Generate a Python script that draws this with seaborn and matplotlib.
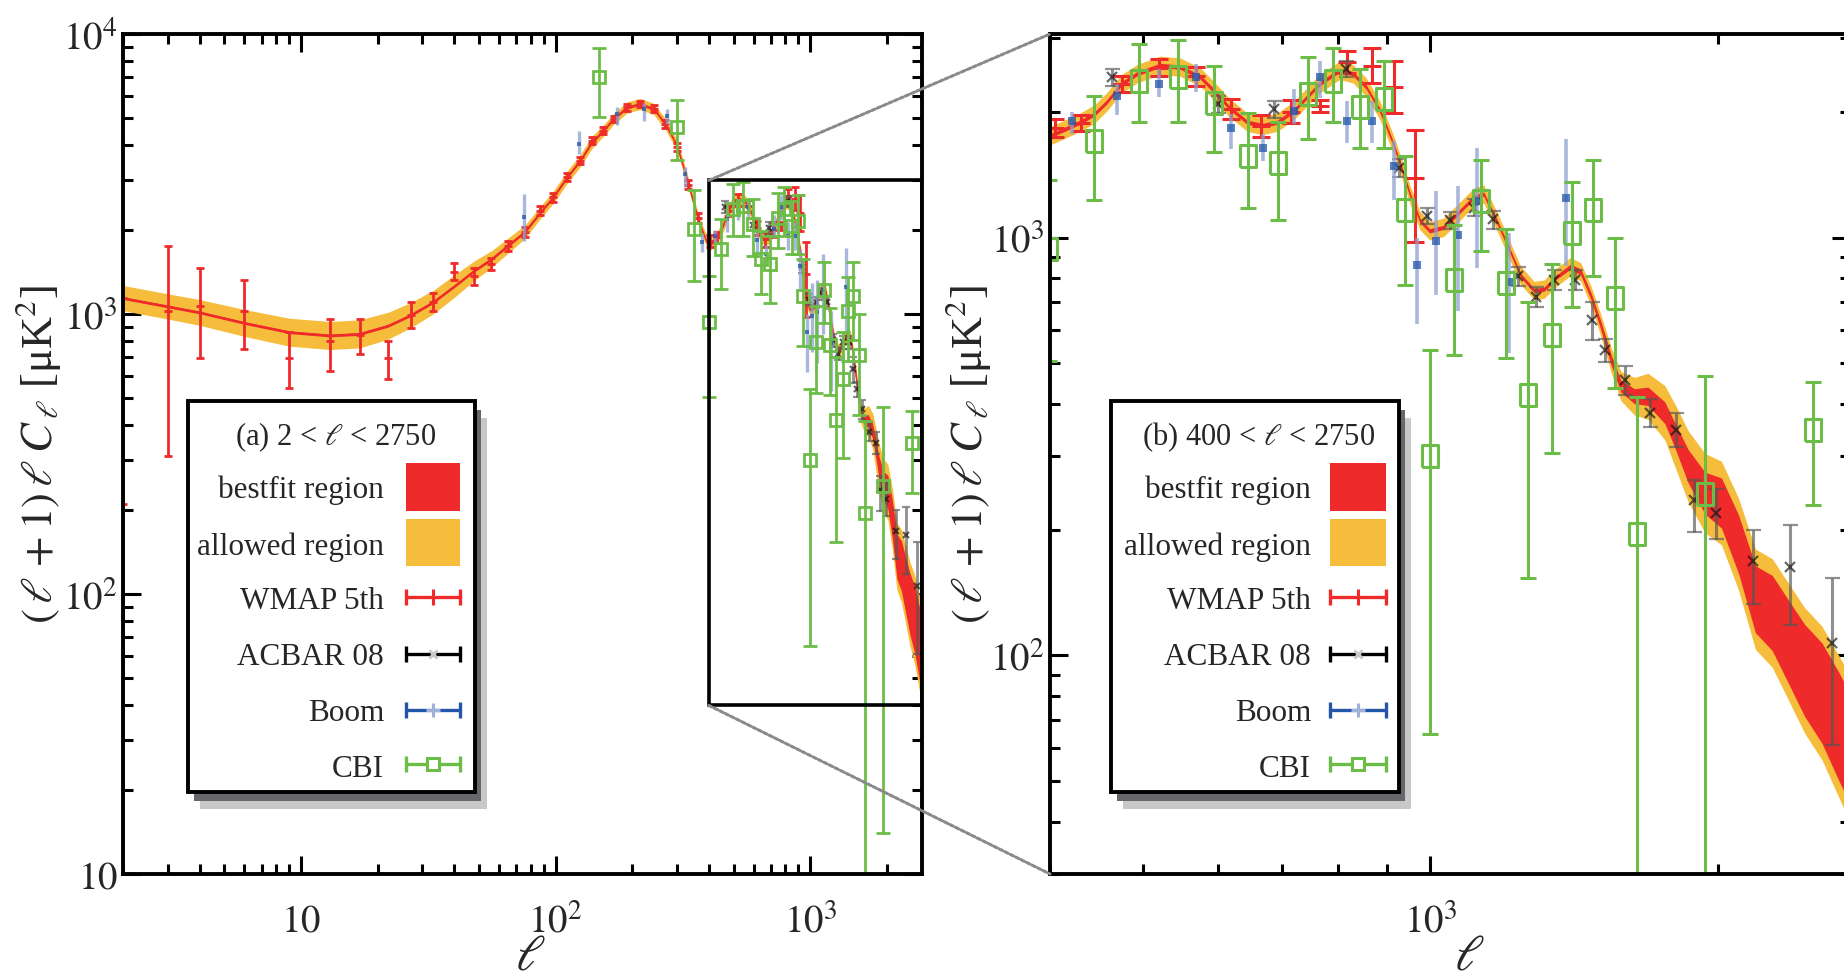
import numpy as np
import matplotlib
matplotlib.use("Agg")
import matplotlib.pyplot as plt
import seaborn as sns
from matplotlib.patches import Rectangle, ConnectionPatch
from matplotlib.ticker import FixedLocator, LogLocator, FuncFormatter, NullFormatter

sns.set_theme(style="ticks")
plt.rcParams["font.family"] = ["Liberation Serif", "DejaVu Serif"]
plt.rcParams["mathtext.fontset"] = "stix"

# ============================================
# best-fit spectrum (centre) and log half-widths of the two bands
# ============================================
ell_fit = [2, 3, 4, 6, 9, 13, 17, 22, 27, 33, 40, 48, 56, 65, 76, 87, 98, 111, 125, 139,
           154, 169, 191, 215, 243, 270, 300, 330, 360, 380, 400, 431, 446, 459, 476, 494,
           522, 548, 575, 594, 616, 644, 668, 693, 721, 767, 805, 831, 858, 887, 916, 934,
           953, 977, 1000, 1034, 1068, 1112, 1139, 1176, 1205, 1245, 1286, 1317, 1360, 1404,
           1439, 1475, 1511, 1548, 1585, 1638, 1692, 1762, 1806, 1864, 1941, 2020, 2105, 2192,
           2283, 2377, 2467, 2574, 2684, 2750]
cl_fit = [1140, 1064, 1013, 929, 861, 838, 849, 908, 991, 1101, 1256, 1429, 1570, 1754, 1970,
          2300, 2612, 3077, 3530, 4100, 4516, 4970, 5470, 5623, 5400, 4770, 4000, 3000, 2250,
          1950, 1745, 1884, 1973, 2104, 2328, 2460, 2576, 2551, 2416, 2244, 2047, 1884, 1849,
          1884, 2009, 2328, 2506, 2460, 2286, 2009, 1671, 1468, 1268, 1094, 1035, 1055, 1135,
          1245, 1268, 1090, 960, 810, 745, 750, 805, 850, 825, 722, 613, 509, 440, 416, 416,
          380, 335, 283, 244, 231, 184, 136, 126, 107, 92, 81, 67, 60]
w_allow = [0.045, 0.045, 0.046, 0.048, 0.05, 0.05, 0.05, 0.048, 0.045, 0.042,
           0.04, 0.035, 0.03, 0.027, 0.024, 0.022, 0.022, 0.022, 0.022, 0.022,
           0.02, 0.02, 0.02, 0.02, 0.02, 0.02, 0.02, 0.02, 0.02, 0.02,
           0.022, 0.022, 0.022, 0.022, 0.022, 0.022, 0.022, 0.022, 0.022, 0.022,
           0.022, 0.022, 0.022, 0.022, 0.022, 0.022, 0.022, 0.022, 0.022, 0.022,
           0.022, 0.022, 0.022, 0.022, 0.022, 0.022, 0.022, 0.022, 0.022, 0.022,
           0.022, 0.022, 0.022, 0.022, 0.022, 0.022, 0.022, 0.024, 0.026, 0.03,
           0.035, 0.045, 0.055, 0.065, 0.075, 0.085, 0.095, 0.1, 0.11, 0.12,
           0.13, 0.14, 0.15, 0.16, 0.17, 0.175]
w_best = [0.005] * 65 + [0.006, 0.007, 0.008, 0.01, 0.012] + \
         [0.014, 0.018, 0.022, 0.026, 0.03, 0.04, 0.05, 0.06, 0.07, 0.08,
          0.09, 0.1, 0.11, 0.12, 0.13, 0.13]

# ============================================
# data sets: ell, value, lower end, upper end of error bar
# ============================================
wmap_ell = [2, 3, 4, 6, 9, 13, 17, 22, 27, 33, 40, 48, 56, 65, 76, 87, 98, 111, 125, 139,
            154, 169, 191, 215, 243, 270, 300, 330, 363, 405, 431, 476, 520, 568, 618, 665,
            715, 767, 818, 869, 916, 965]
wmap_cl = [210, 1028, 1064, 1026, 698, 803, 838, 698, 991, 1101, 1416, 1363, 1510, 1754, 1959,
           2339, 2612, 3077, 3530, 4161, 4516, 4970, 5470, 5623, 5400, 4770, 3950, 2900, 2203,
           1828, 1884, 2328, 2551, 2430, 2027, 1849, 2000, 2061, 2630, 2576, 2296, 1390]
wmap_lo = [10, 311, 698, 748, 546, 628, 721, 584, 893, 1026, 1318, 1273, 1440, 1680, 1880,
           2250, 2520, 2980, 3420, 4040, 4390, 4840, 5330, 5480, 5250, 4630, 3820, 2790, 2110,
           1740, 1800, 2230, 2440, 2310, 1920, 1740, 1880, 1993, 2480, 2350, 1983, 977]
wmap_hi = [1140, 1754, 1460, 1318, 865, 960, 960, 803, 1107, 1188, 1521, 1460, 1590, 1830, 2040,
           2430, 2710, 3180, 3640, 4290, 4650, 5110, 5620, 5770, 5560, 4920, 4090, 3020, 2300,
           1920, 1970, 2430, 2680, 2560, 2140, 1960, 2130, 2134, 2790, 2838, 2650, 1807]

acbar_ell = [464, 599, 687, 816, 927, 993, 1050, 1110, 1162, 1235, 1291, 1349, 1416, 1475,
             1524, 1599, 1700, 1806, 1888, 1990, 2175, 2377, 2632]
acbar_cl = [2416, 2085, 2027, 2530, 1468, 1125, 1100, 1180, 1105, 807, 722, 793, 793, 636,
            538, 456, 380, 347, 235, 219, 168, 163, 107]
acbar_lo = [2300, 1990, 1930, 2420, 1400, 1075, 1050, 1125, 1050, 765, 683, 750, 750, 569,
            505, 420, 353, 315, 198, 190, 133, 118, 61]
acbar_hi = [2530, 2185, 2125, 2640, 1540, 1180, 1150, 1235, 1160, 850, 762, 836, 836, 700,
            572, 492, 410, 380, 263, 250, 200, 205, 153]

boom_ell = [75, 124, 174, 223, 274, 323, 375, 422, 470, 520, 569, 618, 668, 721, 767, 818,
            869, 916, 968, 1015, 1068, 1119, 1210, 1388]
boom_cl = [2215, 4050, 5180, 5400, 5100, 3162, 1805, 1901, 2183, 2328, 2416, 1832, 1641, 2009,
           2416, 1901, 1901, 1483, 861, 980, 1017, 1222, 785, 1245]
boom_lo = [1828, 3715, 4722, 4880, 4770, 2838, 1660, 1765, 1970, 2166, 2225, 1625, 1525, 1867,
           2163, 1687, 1687, 1233, 620, 730, 666, 846, 529, 855]
boom_hi = [2685, 4516, 5470, 5680, 5400, 3340, 1950, 2000, 2330, 2529, 2600, 1973, 1765, 2264,
           2650, 2124, 2124, 1702, 1000, 1292, 1327, 1641, 1026, 1718]

cbi_ell = [148, 300, 349, 399, 445, 496, 545, 594, 644, 693, 745, 792, 845, 894, 941, 1000,
           1059, 1130, 1200, 1265, 1341, 1408, 1479, 1561, 1644, 1941, 2513]
cbi_cl = [6993, 4642, 2014, 940, 1702, 2371, 2427, 2104, 1566, 1510, 2203, 2371, 2056, 2143,
          1163, 300, 793, 1222, 778, 419, 585, 1026, 1163, 716, 195, 243, 347]
cbi_lo = [5070, 3556, 1315, 506, 1233, 1892, 1892, 1605, 1178, 1099, 1718, 1892, 1641, 1641,
          769, 65, 524, 927, 514, 153, 305, 682, 807, 436, 1, 14, 229]
cbi_hi = [8913, 5816, 2773, 1371, 2183, 2904, 2963, 2576, 1983, 1892, 2704, 2838, 2529, 2650,
          1566, 539, 1070, 1530, 1049, 700, 865, 1359, 1532, 998, 416, 467, 452]

key_labels = ["bestfit region", "allowed region", "WMAP 5th", "ACBAR 08", "Boom", "CBI"]
panel_titles = ["(a) 2 < $\\ell$ < 2750", "(b) 400 < $\\ell$ < 2750"]
ylabel_text = "$(\\,\\ell\\,+1)\\,\\ell\\;C_{\\,\\ell}$ [μK$^2$]"

RED = "#ee2a2a"
ORANGE = "#f5bd3b"
GREEN = "#6cbd47"
BLUE = "#2356a8"
BLUE_ERR = "#8c9fd2"

W, H = 1844, 978
fig = plt.figure(figsize=(W / 100, H / 100), dpi=100)


def px_rect(x0, y0, x1, y1):
    return [x0 / W, 1 - y1 / H, (x1 - x0) / W, (y1 - y0) / H]


ax1 = fig.add_axes(px_rect(123, 35, 922, 875))
ax2 = fig.add_axes(px_rect(1050, 35, 1850, 875))


def yerr(cl, lo, hi):
    cl = np.asarray(cl, float)
    return [cl - np.asarray(lo, float), np.asarray(hi, float) - cl]


def pow_label(v, pos):
    e = int(round(np.log10(v)))
    return "$10$" if e == 1 else "$10^{%d}$" % e


CBI_BOX = [(-0.72, -1), (0.72, -1), (0.72, 1), (-0.72, 1), (-0.72, -1)]


def style_axes(ax, xlim, ylim, xmajor, ymajor):
    ax.set_xscale("log")
    ax.set_yscale("log")
    ax.set_xlim(xlim)
    ax.set_ylim(ylim)
    ax.xaxis.set_major_locator(FixedLocator(xmajor))
    ax.yaxis.set_major_locator(FixedLocator(ymajor))
    for axis in (ax.xaxis, ax.yaxis):
        axis.set_minor_locator(LogLocator(base=10, subs=np.arange(2, 10), numticks=30))
        axis.set_minor_formatter(NullFormatter())
        axis.set_major_formatter(FuncFormatter(pow_label))
    ax.tick_params(which="both", direction="in", top=True, right=True, width=2.2, color="black")
    ax.tick_params(which="major", length=13)
    ax.tick_params(which="minor", length=7)
    ax.tick_params(axis="x", which="major", labelsize=28, pad=41)
    ax.tick_params(axis="y", which="major", labelsize=28, pad=4)
    for lab in ax.get_xticklabels():
        lab.set_verticalalignment("baseline")
    for sp in ax.spines.values():
        sp.set_linewidth(2.8)
        sp.set_color("black")
        sp.set_zorder(8)
    ax.grid(False)


def draw_panel(ax, s):
    ell = np.asarray(ell_fit, float)
    cl = np.asarray(cl_fit, float)
    wa = 10 ** np.asarray(w_allow)
    wb = 10 ** np.asarray(w_best)
    ax.fill_between(ell, cl / wa, cl * wa, color=ORANGE, lw=0, zorder=1)
    ax.fill_between(ell, cl / wb, cl * wb, color=RED, lw=0, zorder=1.5)
    sns.lineplot(x=ell, y=cl, ax=ax, color=RED, lw=1.0, estimator=None, sort=False,
                 zorder=1.6)

    ax.errorbar(wmap_ell, wmap_cl, yerr=yerr(wmap_cl, wmap_lo, wmap_hi), fmt="_", color=RED,
                ms=2 * s["wmap_cap"], mew=s["lw"], elinewidth=s["lw"], capsize=s["wmap_cap"],
                capthick=s["lw"], zorder=3)
    ax.errorbar(acbar_ell, acbar_cl, yerr=yerr(acbar_cl, acbar_lo, acbar_hi), fmt="x",
                color="#111111", ecolor="#555555", ms=s["acbar_ms"], mew=1.6,
                elinewidth=s["lw"], capsize=s["acbar_cap"], capthick=s["lw"], alpha=0.65, zorder=4)
    ax.errorbar(boom_ell, boom_cl, yerr=yerr(boom_cl, boom_lo, boom_hi), fmt="s",
                color=BLUE, ecolor=BLUE_ERR, ms=s["boom_ms"], mew=0, elinewidth=s["lw"] + 0.4,
                capsize=s["boom_cap"], capthick=s["lw"] + 0.4, alpha=0.75, zorder=5)
    ax.errorbar(cbi_ell, cbi_cl, yerr=yerr(cbi_cl, cbi_lo, cbi_hi), marker=s["cbi_marker"],
                ls="none", color=GREEN, mfc="none", mec=GREEN, ms=s["cbi_ms"], mew=s["lw"],
                elinewidth=s["lw"], capsize=s["cbi_cap"], capthick=s["lw"], zorder=6)
    ax.set_xlabel("")
    ax.set_ylabel("")


left_sizes = dict(wmap_cap=3.2, acbar_cap=3.0, acbar_ms=4, boom_cap=3.0, boom_ms=3.5,
                  cbi_cap=4.7, cbi_ms=9, cbi_marker="s", lw=2.0)
right_sizes = dict(wmap_cap=6.5, acbar_cap=5.4, acbar_ms=6.5, boom_cap=4.3, boom_ms=5.5,
                   cbi_cap=6.0, cbi_ms=16.5, cbi_marker=CBI_BOX, lw=2.2)

style_axes(ax1, (2, 2750), (10, 1e4), [10, 100, 1000], [10, 100, 1000, 10000])
style_axes(ax2, (400, 2750), (30, 3070), [1000], [100, 1000])
draw_panel(ax1, left_sizes)
draw_panel(ax2, right_sizes)

for ax, lx in ((ax1, -0.106), (ax2, -0.1025)):
    ax.set_ylabel(ylabel_text, fontsize=32, va="center")
    ax.yaxis.set_label_coords(lx, 0.5)
for ax, lx in ((ax1, 0.51), (ax2, 0.524)):
    ax.set_xlabel("$\\ell$", fontsize=36, va="center")
    ax.xaxis.set_label_coords(lx, -0.098)

# zoomed region and the guide lines to panel (b)
ax1.add_patch(Rectangle((400, 40), 2750 - 400, 3000 - 40, fill=False, ec="black", lw=2.6,
                        zorder=7))
for ya, yb in ((3000, 1), (40, 0)):
    con = ConnectionPatch(xyA=(400, ya), coordsA=ax1.transData, xyB=(0, yb),
                          coordsB=ax2.transAxes, color="#8a8a8a", lw=2.2,
                          ls=(0, (1.2, 0.8)))
    fig.add_artist(con)

# ============================================
# keys (drawn in pixel space over the panels)
# ============================================
ov = fig.add_axes([0, 0, 1, 1], zorder=20)
ov.set_xlim(0, W)
ov.set_ylim(H, 0)
ov.axis("off")

row_base = [498, 555, 609, 665, 721, 777]
handle_y = [598, 655, 711, 765]


def draw_key(x0, x1, text_right, hx0, hx1, title):
    y0, y1 = 402, 793
    ov.add_patch(Rectangle((x0 + 12, y0 + 17), x1 - x0, y1 - y0, fc="#c8c8c8", ec="none"))
    ov.add_patch(Rectangle((x0 + 6, y0 + 9), x1 - x0, y1 - y0, fc="#66676b", ec="none"))
    ov.add_patch(Rectangle((x0, y0), x1 - x0, y1 - y0, fc="white", ec="black", lw=2.8))
    ov.text((x0 + x1) / 2 + 4, 445, title, ha="center", va="baseline", fontsize=22)
    for lab, yb in zip(key_labels, row_base):
        ov.text(text_right, yb, lab, ha="right", va="baseline", fontsize=22.5)
    ov.add_patch(Rectangle((hx0, 464), hx1 - hx0, 48, fc=RED, ec="none"))
    ov.add_patch(Rectangle((hx0, 520), hx1 - hx0, 47, fc=ORANGE, ec="none"))
    xc = (hx0 + hx1) / 2
    styles = [(RED, "|", RED, RED, 11), ("black", "x", "#c8c8c8", "#c8c8c8", 6),
              (BLUE, "+", "#a0b0d8", "#a0b0d8", 10), (GREEN, "s", "white", GREEN, 9)]
    for (c, m, mfc, mec, ms), y in zip(styles, handle_y):
        ov.plot([hx0, hx1], [y, y], color=c, lw=2.4, marker="|", ms=12, mew=2.4)
        ov.plot([xc], [y], ls="none", marker=m, mfc=mfc, mec=mec, ms=ms, mew=2.2)


draw_key(188, 475, 384, 406, 460, panel_titles[0])
draw_key(1111, 1399, 1311, 1330, 1386, panel_titles[1])

fig.savefig("out.png", dpi=100)
